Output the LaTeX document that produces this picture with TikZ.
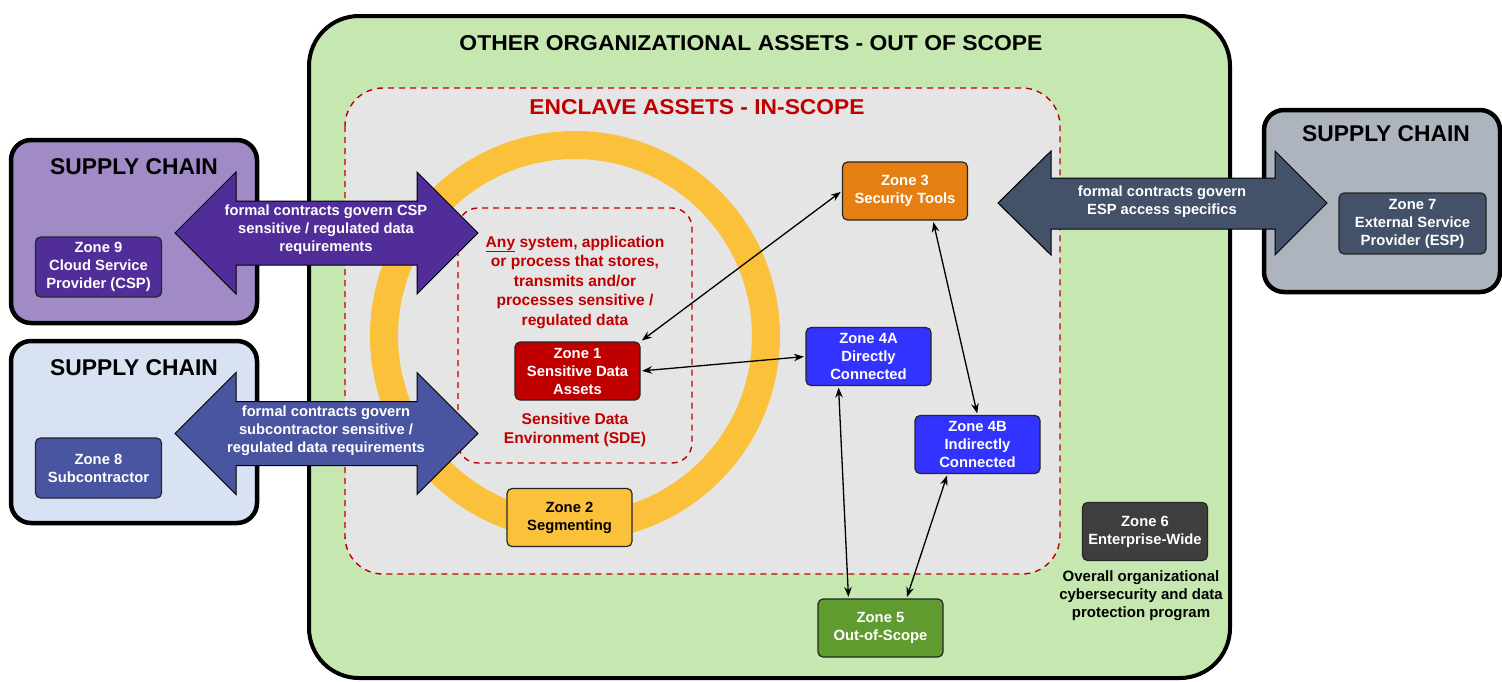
\documentclass[tikz,border=0pt]{standalone}
\usepackage{fontspec}
\setmainfont{Liberation Sans}
\usetikzlibrary{arrows.meta}
\definecolor{outergreen}{HTML}{C6E7AF}
\definecolor{enclavegray}{HTML}{E5E5E5}
\definecolor{ringyellow}{HTML}{FBC13B}
\definecolor{darkred}{HTML}{C00000}
\definecolor{orangez}{HTML}{E67F12}
\definecolor{bluez}{HTML}{3333FF}
\definecolor{greenz}{HTML}{609B30}
\definecolor{darkz}{HTML}{3E3E3E}
\definecolor{purplelight}{HTML}{A08BC6}
\definecolor{purpledark}{HTML}{512D9A}
\definecolor{bluelight}{HTML}{D9E2F3}
\definecolor{indigoz}{HTML}{4A55A2}
\definecolor{graylight}{HTML}{ADB4BE}
\definecolor{slatez}{HTML}{435169}
\newcommand\zfont{\bfseries\fontsize{14.8}{18}\selectfont}
\newcommand\afont{\bfseries\fontsize{14.7}{18}\selectfont}
\newcommand\scfont{\bfseries\fontsize{22.8}{26}\selectfont}
\begin{document}
\begin{tikzpicture}[x=1pt,y=-1pt,
  zonebox/.style={draw=black!85, line width=1.2pt, rounded corners=5pt,
    minimum width=125pt, minimum height=58pt, inner sep=0pt, align=center,
    font=\zfont, text=white},
  scbox/.style={draw=black, line width=4.5pt, rounded corners=20pt},
  bigarrow/.style={draw=black, line width=1pt},
  arrowtext/.style={align=center, font=\afont, text=white},
  link/.style={{Stealth[length=10pt,width=7.5pt]}-{Stealth[length=10pt,width=7.5pt]},
    line width=1.3pt, shorten <=1.5pt, shorten >=1.5pt},
  redtext/.style={align=center, text=darkred, font=\bfseries\fontsize{15.6}{19.5}\selectfont}
]
\useasboundingbox (0,0) rectangle (1502,681);
\fill[white] (0,0) rectangle (1502,681);

% supply chain boxes
\draw[scbox, fill=purplelight] (11,140) rectangle (257,323);
\node[font=\scfont] (sc9) at (134,167) {SUPPLY CHAIN};
\draw[scbox, fill=bluelight] (11,341) rectangle (257,523);
\node[font=\scfont] (sc8) at (134,368) {SUPPLY CHAIN};
\draw[scbox, fill=graylight] (1264,110) rectangle (1500,292);
\node[font=\scfont] (sc7) at (1386,134) {SUPPLY CHAIN};

% outer green box
\draw[line width=4pt, fill=outergreen, rounded corners=50pt] (309,16) rectangle (1230,678);
\node (title) at (751,43) {\resizebox{583pt}{15pt}{\bfseries OTHER ORGANIZATIONAL ASSETS - OUT OF SCOPE}};

% enclave
\draw[darkred, line width=1.4pt, dash pattern=on 6pt off 5pt, fill=enclavegray, rounded corners=38pt] (345,88) rectangle (1060,574);
\node (enclave) at (697,107) {\resizebox{335pt}{15pt}{\bfseries\color{darkred}ENCLAVE ASSETS - IN-SCOPE}};

% ring
\draw[ringyellow, line width=28pt] (575,336) circle[radius=191pt];

% SDE
\draw[darkred, line width=1.4pt, dash pattern=on 6pt off 5pt, rounded corners=20pt] (458,208) rectangle (692,463);
\node[redtext] (any) at (575,282) {\underline{Any} system, application\\or process that stores,\\transmits and/or\\processes sensitive /\\regulated data};
\node[redtext] (sde) at (575,430) {Sensitive Data\\Environment (SDE)};

% zones
\node[zonebox, fill=darkred] (z1) at (577.5,371) {Zone 1\\Sensitive Data\\Assets};
\node[zonebox, fill=ringyellow, text=black] (z2) at (569.5,517.5) {Zone 2\\Segmenting};
\node[zonebox, fill=orangez] (z3) at (905,191) {Zone 3\\Security Tools};
\node[zonebox, fill=bluez] (z4a) at (868.5,356.5) {Zone 4A\\Directly\\Connected};
\node[zonebox, fill=bluez] (z4b) at (977.5,444.5) {Zone 4B\\Indirectly\\Connected};
\node[zonebox, fill=greenz] (z5) at (880.5,628) {Zone 5\\Out-of-Scope};
\node[zonebox, fill=darkz] (z6) at (1145,531.5) {Zone 6\\Enterprise-Wide};
\node[align=center, font=\bfseries\fontsize{15}{18}\selectfont] (z6t) at (1141,596) {Overall organizational\\cybersecurity and data\\protection program};
\node[zonebox, fill=purpledark, minimum width=126pt, minimum height=60pt] (z9) at (98.5,267) {Zone 9\\Cloud Service\\Provider (CSP)};
\node[zonebox, fill=indigoz, minimum width=126pt, minimum height=60pt] (z8) at (98.5,468) {Zone 8\\Subcontractor};
\node[zonebox, fill=slatez, minimum width=147pt, minimum height=61pt] (z7) at (1412.5,223.5) {Zone 7\\External Service\\Provider (ESP)};

% big arrows
\draw[bigarrow, fill=purpledark] (175,233) -- (236,172) -- (236,201) -- (417,201) -- (417,172) -- (478,233) -- (417,294) -- (417,265) -- (236,265) -- (236,294) -- cycle;
\node[arrowtext] (a9) at (326,230) {formal contracts govern CSP\\sensitive / regulated data\\requirements};
\draw[bigarrow, fill=indigoz] (175,433.5) -- (236,372.5) -- (236,401.5) -- (417,401.5) -- (417,372.5) -- (478,433.5) -- (417,494.5) -- (417,465.5) -- (236,465.5) -- (236,494.5) -- cycle;
\node[arrowtext] (a8) at (326,431) {formal contracts govern\\subcontractor sensitive /\\regulated data requirements};
\draw[bigarrow, fill=slatez] (998,203) -- (1051,151) -- (1051,178) -- (1275,178) -- (1275,151) -- (1327,203) -- (1275,255) -- (1275,229) -- (1051,229) -- (1051,255) -- cycle;
\node[arrowtext] (a7) at (1162,202) {formal contracts govern\\ESP access specifics};

% connectors
\draw[link] (z1.north east) -- (z3.west);
\draw[link] (z1.east) -- (z4a.west);
\draw[link] ([xshift=28pt]z3.south) -- (z4b.north);
\draw[link] ([xshift=-30pt]z4a.south) -- ([xshift=-32pt]z5.north);
\draw[link] ([xshift=-30pt]z4b.south) -- ([xshift=26pt]z5.north);
\end{tikzpicture}
\end{document}
